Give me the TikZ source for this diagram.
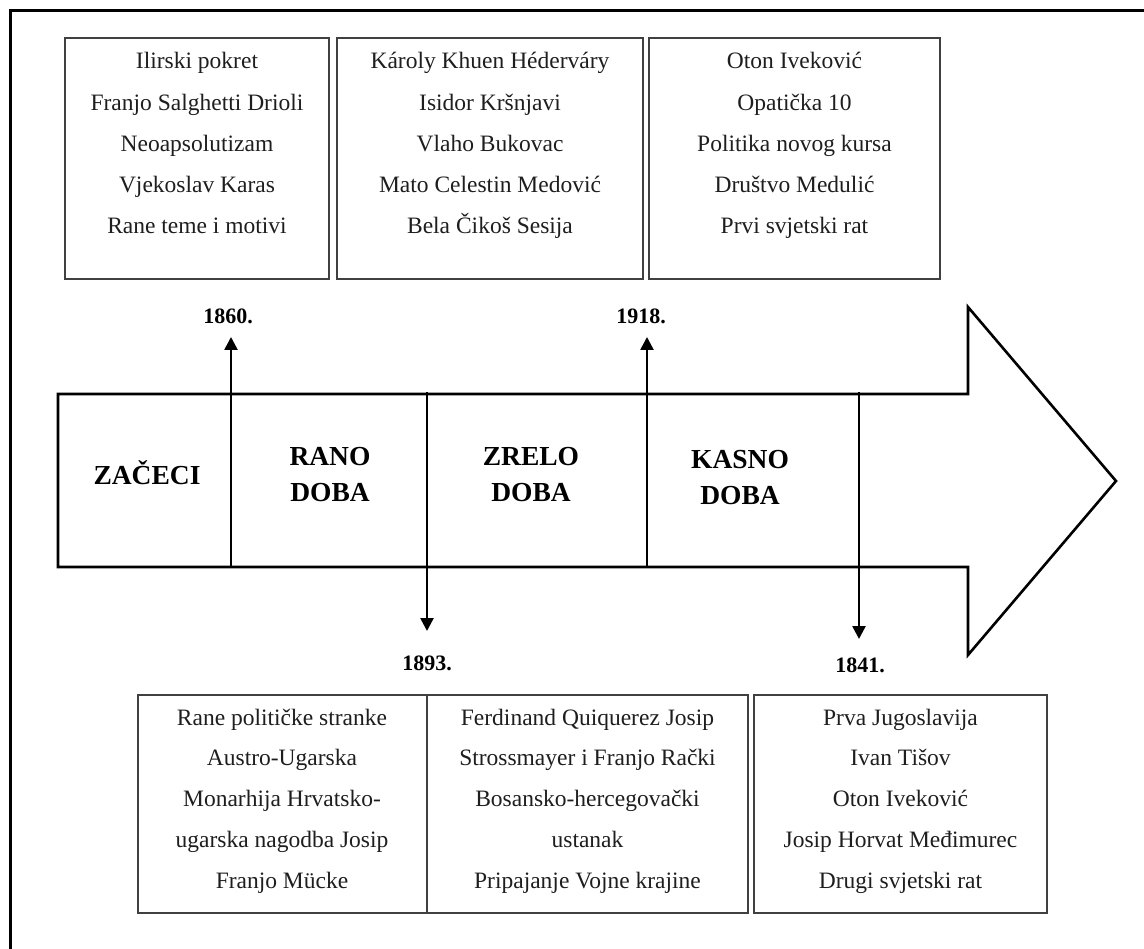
\documentclass[tikz,border=0pt]{standalone}
\usepackage{fontspec}
\setmainfont{Liberation Serif}
\usetikzlibrary{arrows.meta}
\definecolor{boxgray}{HTML}{404040}
\definecolor{txtcol}{HTML}{1E1E1E}
\begin{document}
\begin{tikzpicture}[x=1pt,y=-1pt,
  frame/.style={line width=3pt, draw=black},
  infobox/.style={draw=boxgray, line width=1.6pt, inner sep=0pt, outer sep=0pt},
  itemtext/.style={anchor=base, inner sep=0pt, font=\fontsize{23.5}{28}\selectfont, text=txtcol},
  period/.style={font=\fontsize{27.5}{36}\selectfont\bfseries, align=center, inner sep=0pt, text=black},
  yearlabel/.style={font=\fontsize{22}{26}\selectfont\bfseries, inner sep=0pt, text=black},
  timearrow/.style={line width=2.6pt, draw=black, line join=miter},
  tick/.style={line width=2.6pt, -{Triangle[width=13pt,length=13pt]}}
]
\useasboundingbox (0,0) rectangle (1144,949);
\begin{scope}
\clip (0,0) rectangle (1144,949);
\draw[frame] (10,960) -- (10,11) -- (1160,11);
\end{scope}

% top boxes
\node[infobox, minimum width=264pt, minimum height=241pt, anchor=north west] (tb1) at (65,38) {};
\node[infobox, minimum width=306pt, minimum height=241pt, anchor=north west] (tb2) at (337,38) {};
\node[infobox, minimum width=291pt, minimum height=241pt, anchor=north west] (tb3) at (649,38) {};

\foreach \itm [count=\i] in {Ilirski pokret, Franjo Salghetti Drioli, Neoapsolutizam, Vjekoslav Karas, Rane teme i motivi}
  \node[itemtext] (ta\i) at (197,{69+41.2*(\i-1)}) {\itm};
\foreach \itm [count=\i] in {Károly Khuen Héderváry, Isidor Kršnjavi, Vlaho Bukovac, Mato Celestin Medović, Bela Čikoš Sesija}
  \node[itemtext] (tbb\i) at (490,{69+41.2*(\i-1)}) {\itm};
\foreach \itm [count=\i] in {Oton Iveković, Opatička 10, Politika novog kursa, Društvo Medulić, Prvi svjetski rat}
  \node[itemtext] (tc\i) at (794.5,{69+41.2*(\i-1)}) {\itm};

% bottom boxes
\node[infobox, minimum width=289pt, minimum height=218pt, anchor=north west] (bb1) at (138,695) {};
\node[infobox, minimum width=321pt, minimum height=218pt, anchor=north west] (bb2) at (427,695) {};
\node[infobox, minimum width=293pt, minimum height=218pt, anchor=north west] (bb3) at (754,695) {};

\foreach \itm [count=\i] in {Rane političke stranke, Austro-Ugarska, Monarhija Hrvatsko-, ugarska nagodba Josip, Franjo Mücke}
  \node[itemtext] (ba\i) at (282,{725+40.8*(\i-1)}) {\itm};
\foreach \itm [count=\i] in {Ferdinand Quiquerez Josip, Strossmayer i Franjo Rački, Bosansko-hercegovački, ustanak, Pripajanje Vojne krajine}
  \node[itemtext] (bbb\i) at (587.5,{725+40.8*(\i-1)}) {\itm};
\foreach \itm [count=\i] in {Prva Jugoslavija, Ivan Tišov, Oton Iveković, Josip Horvat Međimurec, Drugi svjetski rat}
  \node[itemtext] (bc\i) at (900.5,{725+40.8*(\i-1)}) {\itm};

% timeline arrow
\draw[timearrow] (58,394) -- (968,394) -- (968,307) -- (1116,481) -- (968,655) -- (968,567) -- (58,567) -- cycle;

% period labels
\node[period] (p0) at (147,473) {ZAČECI};
\node[period] (p1) at (330,475) {RANO\\DOBA};
\node[period] (p2) at (531,475) {ZRELO\\DOBA};
\node[period] (p3) at (740,478) {KASNO\\DOBA};

% year ticks
\coordinate (y1860a) at (231,567);
\coordinate (y1860b) at (231,337);
\coordinate (y1893a) at (427,392);
\coordinate (y1893b) at (427,631);
\coordinate (y1918a) at (647,567);
\coordinate (y1918b) at (647,337);
\coordinate (y1841a) at (859,392);
\coordinate (y1841b) at (859,639);
\draw[tick] (y1860a) -- (y1860b);
\draw[tick] (y1893a) -- (y1893b);
\draw[tick] (y1918a) -- (y1918b);
\draw[tick] (y1841a) -- (y1841b);

\node[yearlabel] (l1860) at (228,316) {1860.};
\node[yearlabel] (l1893) at (427,663) {1893.};
\node[yearlabel] (l1918) at (641,316) {1918.};
\node[yearlabel] (l1841) at (860,665) {1841.};
\end{tikzpicture}
\end{document}
